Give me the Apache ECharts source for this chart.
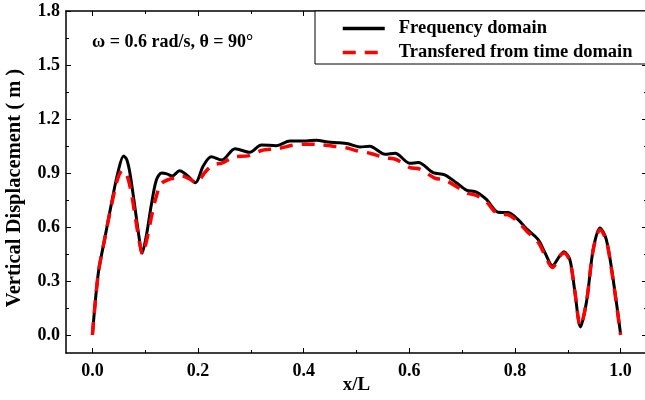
<!DOCTYPE html>
<html>
<head>
<meta charset="utf-8">
<script src="https://cdn.jsdelivr.net/npm/echarts@6/dist/echarts.min.js"></script>
<style>
  html, body { margin: 0; padding: 0; background: #fff; }
  #chart { width: 645px; height: 400px; }
</style>
</head>
<body>
<div id="chart"></div>
<script>
// x/L positions and displacement
var freqX = [0, 0.011, 0.023, 0.036, 0.048, 0.059, 0.065, 0.071, 0.080, 0.088, 0.094, 0.102, 0.112, 0.121, 0.131, 0.141, 0.151, 0.165, 0.180, 0.195,
  0.210, 0.225, 0.245, 0.270, 0.298, 0.320, 0.348, 0.374, 0.405, 0.424, 0.446, 0.468, 0.484, 0.506, 0.525, 0.554, 0.573, 0.601, 0.617, 0.645,
  0.667, 0.689, 0.708, 0.727, 0.746, 0.768, 0.787, 0.806, 0.822, 0.844, 0.857, 0.871, 0.885, 0.893, 0.904, 0.913, 0.924, 0.936, 0.948, 0.961,
  0.973, 0.986, 1.0];
var freqY = [0, 0.34, 0.53, 0.73, 0.90, 0.995, 0.975, 0.90, 0.72, 0.55, 0.455, 0.55, 0.73, 0.86, 0.90, 0.895, 0.883, 0.912, 0.885, 0.846,
  0.94, 0.99, 0.972, 1.035, 1.015, 1.055, 1.052, 1.078, 1.078, 1.082, 1.072, 1.068, 1.062, 1.045, 1.048, 1.004, 1.01, 0.954, 0.958, 0.902,
  0.89, 0.846, 0.805, 0.794, 0.753, 0.682, 0.68, 0.641, 0.59, 0.53, 0.456, 0.385, 0.44, 0.462, 0.418, 0.25, 0.045, 0.195, 0.474, 0.595,
  0.53, 0.307, 0.005];

var timeX = [0, 0.011, 0.023, 0.036, 0.048, 0.057, 0.065, 0.073, 0.082, 0.090, 0.095, 0.103, 0.112, 0.120, 0.130, 0.145, 0.158, 0.169, 0.183, 0.197,
  0.212, 0.228, 0.245, 0.270, 0.295, 0.320, 0.352, 0.380, 0.402, 0.430, 0.453, 0.480, 0.503, 0.525, 0.554, 0.575, 0.601, 0.620, 0.648, 0.667,
  0.689, 0.708, 0.727, 0.746, 0.768, 0.787, 0.806, 0.822, 0.844, 0.857, 0.871, 0.885, 0.893, 0.904, 0.913, 0.924, 0.936, 0.948, 0.961, 0.973,
  0.986, 1.0];
var timeY = [0, 0.34, 0.53, 0.72, 0.87, 0.915, 0.89, 0.80, 0.64, 0.50, 0.45, 0.53, 0.66, 0.76, 0.84, 0.865, 0.872, 0.883, 0.868, 0.845,
  0.90, 0.945, 0.955, 0.99, 0.995, 1.025, 1.036, 1.055, 1.06, 1.058, 1.05, 1.04, 1.022, 1.01, 0.985, 0.975, 0.93, 0.922, 0.872, 0.862,
  0.825, 0.79, 0.775, 0.74, 0.672, 0.668, 0.628, 0.578, 0.515, 0.442, 0.375, 0.438, 0.455, 0.41, 0.25, 0.05, 0.195, 0.47, 0.585, 0.525,
  0.30, 0];

var xMajor = [0, 0.2, 0.4, 0.6, 0.8, 1.0];
var xMinor = [0.1, 0.3, 0.5, 0.7, 0.9];
var yMajor = [0, 0.3, 0.6, 0.9, 1.2, 1.5, 1.8];
var yMinor = [0.15, 0.45, 0.75, 1.05, 1.35, 1.65];

var seriesNames = ['Frequency domain', 'Transfered from time domain'];
var noteText = 'ω = 0.6 rad/s, θ = 90°';

var FONT = '"Liberation Serif", "Times New Roman", serif';

function pairs(xs, ys) {
  return xs.map(function (x, i) { return [x, ys[i]]; });
}

function xAx(pos, ticks, len, showLine, showLabel) {
  return {
    type: 'value', position: pos, min: -0.05, max: 1.05,
    axisLine: { show: showLine, onZero: false, lineStyle: { color: '#000', width: 1.5 } },
    axisTick: { show: true, inside: true, length: len, customValues: ticks, lineStyle: { color: '#000', width: 1 } },
    axisLabel: {
      show: showLabel, customValues: ticks, margin: 9,
      formatter: function (v) { return v.toFixed(1); },
      color: '#000', fontFamily: FONT, fontWeight: 'bold', fontSize: 18
    },
    splitLine: { show: false }
  };
}

function yAx(pos, ticks, len, showLine, showLabel) {
  return {
    type: 'value', position: pos, min: -0.1, max: 1.8,
    axisLine: { show: showLine, onZero: false, lineStyle: { color: '#000', width: 1.5 } },
    axisTick: { show: true, inside: true, length: len, customValues: ticks, lineStyle: { color: '#000', width: 1 } },
    axisLabel: {
      show: showLabel, customValues: ticks, margin: 6,
      formatter: function (v) { return v.toFixed(1); },
      color: '#000', fontFamily: FONT, fontWeight: 'bold', fontSize: 18
    },
    splitLine: { show: false }
  };
}

var chart = echarts.init(document.getElementById('chart'));

var xMain = xAx('bottom', xMajor, 5, true, true);
xMain.name = 'x/L';
xMain.nameLocation = 'middle';
xMain.nameGap = 23;
xMain.nameMoveOverlap = false;
xMain.nameTextStyle = { color: '#000', fontFamily: FONT, fontWeight: 'bold', fontSize: 19 };

var yMain = yAx('left', yMajor, 5, true, true);
yMain.name = 'Vertical Displacement ( m )';
yMain.nameLocation = 'middle';
yMain.nameGap = 41;
yMain.nameMoveOverlap = false;
yMain.nameTextStyle = { color: '#000', fontFamily: FONT, fontWeight: 'bold', fontSize: 20.5, padding: [0, 12, 0, 0] };

chart.setOption({
  animation: false,
  backgroundColor: '#fff',
  grid: { left: 66, top: 11, right: -2, bottom: 47, outerBoundsMode: 'none', containLabel: false },
  xAxis: [
    xMain,
    xAx('bottom', xMinor, 3, false, false),
    xAx('top', xMajor, 5, true, false),
    xAx('top', xMinor, 3, false, false)
  ],
  yAxis: [
    yMain,
    yAx('left', yMinor, 3, false, false),
    yAx('right', yMajor, 5, true, false),
    yAx('right', yMinor, 3, false, false)
  ],
  legend: {
    left: 315, top: 11, orient: 'vertical',
    itemWidth: 42, itemHeight: 12, itemGap: 5,
    padding: [8, 14, 2, 26],
    borderColor: '#000', borderWidth: 1, backgroundColor: '#fff',
    itemStyle: { opacity: 0 },
    lineStyle: { width: 3.5 },
    textStyle: { color: '#000', fontFamily: FONT, fontWeight: 'bold', fontSize: 18.5, padding: [0, 0, 0, 9] },
    data: seriesNames
  },
  graphic: [{
    type: 'text', left: 92, top: 33,
    style: { text: noteText, fill: '#000', font: 'bold 18px ' + FONT }
  }],
  series: [
    {
      name: seriesNames[0], type: 'line', smooth: 0.3, symbol: 'none',
      data: pairs(freqX, freqY),
      lineStyle: { color: '#000', width: 3 },
      itemStyle: { color: '#000' },
      z: 2
    },
    {
      name: seriesNames[1], type: 'line', smooth: 0.3, symbol: 'none',
      data: pairs(timeX, timeY),
      lineStyle: { color: '#ff0000', width: 3.5, type: [13, 9] },
      itemStyle: { color: '#ff0000' },
      z: 3
    }
  ]
});
</script>
</body>
</html>
